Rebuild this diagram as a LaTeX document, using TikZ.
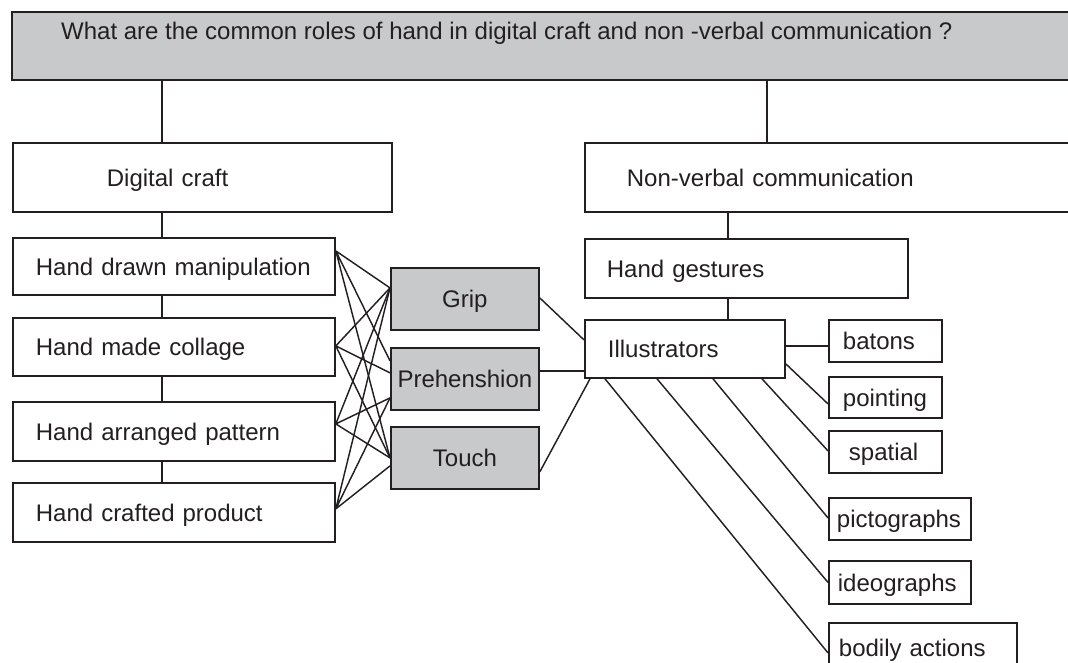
\documentclass[tikz,border=0pt]{standalone}
\usepackage{fontspec}
\setmainfont{Liberation Sans}
\definecolor{ink}{RGB}{35,31,32}
\definecolor{panel}{RGB}{200,201,203}
\tikzset{
  box/.style={draw=ink, line width=1.8pt, fill=white, anchor=north west,
    inner ysep=0pt, text=ink, font=\fontsize{24}{28}\selectfont,
    align=left, text height=19pt, text depth=1pt},
  shaded/.style={box, fill=panel, align=center, inner xsep=4pt, text width=140pt},
  link/.style={draw=ink, line width=1.45pt},
}
\begin{document}
\begin{tikzpicture}[x=1pt, y=-1pt]
\useasboundingbox (0,0) rectangle (1068,662);
\clip (0,0) rectangle (1068,662);

% question banner
\node[draw=ink, line width=1.8pt, fill=panel, anchor=north west, inner sep=0pt,
      minimum width=1080pt, minimum height=68pt] (q) at (11,11) {};
\node[anchor=west, inner sep=0pt, text=ink, font=\fontsize{24}{28}\selectfont] (qtext) at (61,33)
  {What are the common roles of hand in digital craft and non -verbal communication ?};

% digital craft column
\node[box, text width=191pt, inner xsep=94pt, minimum height=69pt] (dig) at (12,142) {Digital craft};
\node[box, text width=276pt, inner xsep=23pt, minimum height=57pt] (hdm) at (12,237) {Hand drawn manipulation};
\node[box, text width=276pt, inner xsep=23pt, minimum height=58pt] (hmc) at (12,317) {Hand made collage};
\node[box, text width=276pt, inner xsep=23pt, minimum height=59pt] (hap) at (12,401) {Hand arranged pattern};
\node[box, text width=276pt, inner xsep=23pt, minimum height=59pt] (hcp) at (12,482) {Hand crafted product};

% common roles
\node[shaded, minimum height=62pt] (grip) at (390,267) {Grip};
\node[shaded, minimum height=62pt] (preh) at (390,347) {Prehenshion};
\node[shaded, minimum height=62pt] (touch) at (390,426) {Touch};

% non-verbal communication column
\node[box, text width=436pt, inner xsep=42pt, minimum height=69pt] (nvc) at (584,142) {Non-verbal communication};
\node[box, text width=279pt, inner xsep=22pt, minimum height=59pt] (hg) at (584,238) {Hand gestures};
\node[box, text width=154pt, inner xsep=23pt, minimum height=58pt] (illu) at (584,319) {Illustrators};

% kinds of illustrators
\node[box, text width=85pt, inner xsep=14pt, minimum height=42pt] (batons) at (828,319) {batons};
\node[box, text width=85pt, inner xsep=14pt, minimum height=41pt] (pointing) at (828,376) {pointing};
\node[box, text width=73pt, inner xsep=20pt, minimum height=42pt] (spatial) at (828,430) {spatial};
\node[box, text width=126pt, inner xsep=8pt, minimum height=42pt] (picto) at (828,497) {pictographs};
\node[box, text width=124pt, inner xsep=9pt, minimum height=43pt] (ideo) at (828,560) {ideographs};
\node[box, text width=168pt, inner xsep=10pt, minimum height=50pt] (bodily) at (828,622) {bodily actions};

% vertical trunks
\coordinate (lx) at (162,0);
\coordinate (rx) at (767,0);
\coordinate (gx) at (728,0);
\draw[link] (q.south -| lx) -- (dig.north -| lx);
\draw[link] (dig.south -| lx) -- (hdm.north -| lx);
\draw[link] (hdm.south -| lx) -- (hmc.north -| lx);
\draw[link] (hmc.south -| lx) -- (hap.north -| lx);
\draw[link] (hap.south -| lx) -- (hcp.north -| lx);
\draw[link] (q.south -| rx) -- (nvc.north -| rx);
\draw[link] (nvc.south -| gx) -- (hg.north -| gx);
\draw[link] (hg.south -| gx) -- (illu.north -| gx);

% crossing links between craft modes and roles
\coordinate (o1) at ([yshift=15.5pt]hdm.east);
\coordinate (o2) at ([yshift=1pt]hmc.east);
\coordinate (o3) at ([yshift=7.5pt]hap.east);
\coordinate (o4) at ([yshift=3.5pt]hcp.east);
\coordinate (g1) at ([yshift=11pt]grip.west);
\coordinate (p1) at ([yshift=18pt]preh.west);
\coordinate (p2) at ([yshift=6pt]preh.west);
\coordinate (p3) at ([yshift=-19pt]preh.west);
\coordinate (t1) at (touch.west);
\coordinate (t2) at ([yshift=-8pt]touch.west);
\draw[link] (o1) -- (g1) (o1) -- (p1) (o1) -- (t1);
\draw[link] (o2) -- (g1) (o2) -- (p2) (o2) -- (t1);
\draw[link] (o3) -- (g1) (o3) -- (p3) (o3) -- (t1);
\draw[link] (o4) -- (g1) (o4) -- (p3) (o4) -- (t2);

% roles to illustrators
\draw[link] ([yshift=1pt]grip.east) -- ([yshift=9pt]illu.west);
\draw[link] ([yshift=8pt]preh.east) -- ([yshift=8pt]preh.east -| illu.west);
\draw[link] ([yshift=-14pt]touch.east) -- ([xshift=6pt]illu.south west);

% illustrators to their kinds
\draw[link] ([yshift=3pt]illu.east) -- ([yshift=-5pt]batons.west);
\draw[link] ([yshift=-15pt]illu.east) -- ([yshift=-6.5pt]pointing.west);
\draw[link] ([xshift=178pt]illu.south west) -- ([yshift=1pt]spatial.west);
\draw[link] ([xshift=129pt]illu.south west) -- ([yshift=1pt]picto.west);
\draw[link] ([xshift=73pt]illu.south west) -- (ideo.west);
\draw[link] ([xshift=21pt]illu.south west) -- ([yshift=-5pt]bodily.west);
\end{tikzpicture}
\end{document}
